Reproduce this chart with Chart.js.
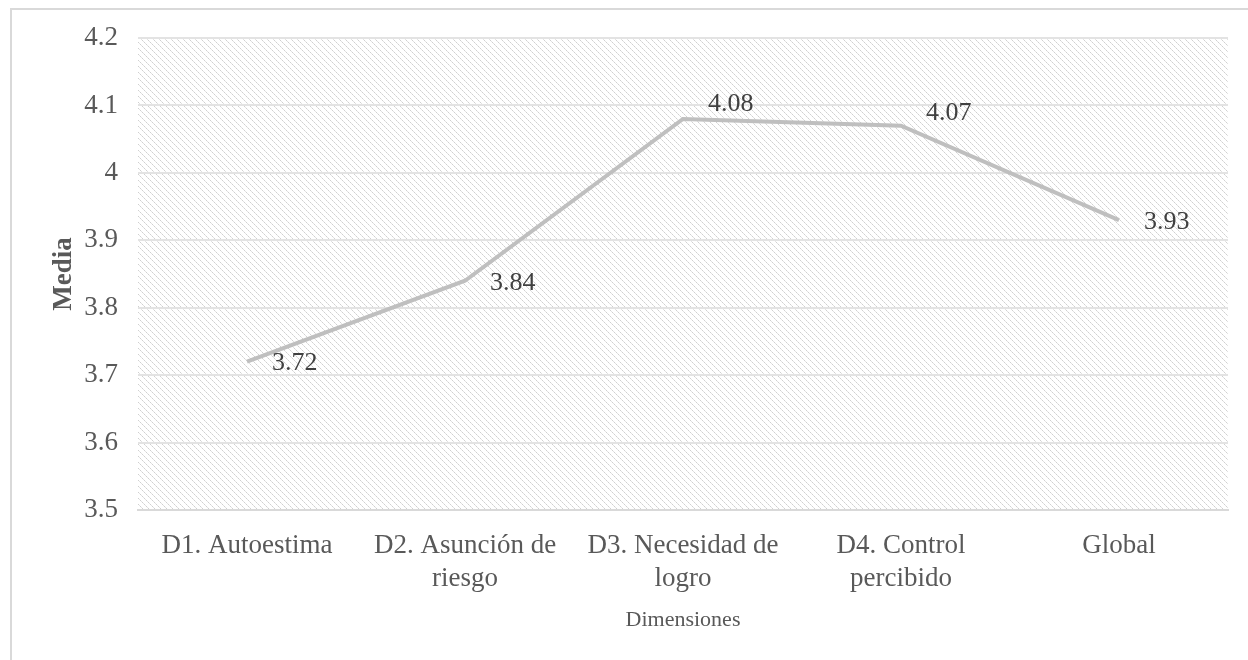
<!DOCTYPE html>
<html>
<head>
<meta charset="utf-8">
<script src="https://cdn.jsdelivr.net/npm/chart.js@4"></script>
<style>
    html, body { margin: 0; padding: 0; background: #fff; overflow: hidden; }
    .frame {
        position: absolute; left: 10px; top: 8px;
        width: 1400px; height: 800px;
        border-left: 2px solid #d9d9d9; border-top: 2px solid #d9d9d9;
    }
    #chart { position: absolute; left: 0; top: 0; }
</style>
</head>
<body>
<div class="frame"></div>
<canvas id="chart" width="1248" height="660"></canvas>
<script>
// Data
const categories = [
    'D1. Autoestima',
    ['D2. Asunción de', 'riesgo'],
    ['D3. Necesidad de', 'logro'],
    ['D4. Control', 'percibido'],
    'Global'
];
const means = [3.72, 3.84, 4.08, 4.07, 3.93];
const yMin = 3.5;
const yMax = 4.2;
const yStep = 0.1;

const serif = '"Liberation Serif", "Times New Roman", serif';

// Hatch pattern for the plot area
function makeHatch() {
    const size = 6;
    const c = document.createElement('canvas');
    c.width = size;
    c.height = size;
    const g = c.getContext('2d');
    g.fillStyle = '#ffffff';
    g.fillRect(0, 0, size, size);
    for (let i = 0; i < size; i++) {
        g.fillStyle = i % 2 === 0 ? '#d0d0d0' : '#e2e2e2';
        g.fillRect(i, i, 1, 1);
    }
    return g.createPattern(c, 'repeat');
}

const hatchPlugin = {
    id: 'hatch',
    beforeDraw(chart) {
        const { ctx, chartArea } = chart;
        ctx.save();
        ctx.fillStyle = makeHatch();
        ctx.fillRect(chartArea.left, chartArea.top,
            chartArea.right - chartArea.left, chartArea.bottom - chartArea.top);
        ctx.restore();
    }
};

// Value labels to the right of each point (the two top ones sit a bit higher)
const labelLift = [0, 0, 17, 14, 0];

const valueLabels = {
    id: 'valueLabels',
    afterDatasetsDraw(chart) {
        const { ctx } = chart;
        const meta = chart.getDatasetMeta(0);
        ctx.save();
        ctx.font = '26px ' + serif;
        ctx.fillStyle = '#404040';
        ctx.textAlign = 'left';
        ctx.textBaseline = 'middle';
        meta.data.forEach((pt, i) => {
            ctx.fillText(means[i].toFixed(2), pt.x + 25, pt.y + 2 - labelLift[i]);
        });
        ctx.restore();
    }
};

const ctx = document.getElementById('chart').getContext('2d');
new Chart(ctx, {
    type: 'line',
    data: {
        labels: categories,
        datasets: [{
            data: means,
            borderColor: '#bfbfbf',
            borderWidth: 4,
            pointRadius: 0,
            tension: 0,
            fill: false
        }]
    },
    options: {
        responsive: false,
        animation: false,
        devicePixelRatio: 1,
        layout: {
            padding: { left: 46, right: 20, top: 38, bottom: 23 }
        },
        plugins: {
            legend: { display: false },
            tooltip: { enabled: false }
        },
        scales: {
            x: {
                offset: true,
                grid: { display: false, drawTicks: false },
                border: { display: true, color: '#d9d9d9', width: 2 },
                ticks: {
                    color: '#595959',
                    font: { family: serif, size: 27, lineHeight: 1.22 },
                    padding: 19,
                    maxRotation: 0,
                    autoSkip: false
                },
                title: {
                    display: true,
                    text: 'Dimensiones',
                    color: '#595959',
                    font: { family: serif, size: 22 },
                    padding: { top: 4, bottom: 4 }
                },
                afterFit(scale) { scale.height = 127; }
            },
            y: {
                min: yMin,
                max: yMax,
                grid: { color: '#e3e3e3', lineWidth: 2, drawTicks: false },
                border: { display: false },
                ticks: {
                    stepSize: yStep,
                    color: '#595959',
                    font: { family: serif, size: 27 },
                    padding: 20,
                    callback: v => Number(v.toFixed(1)).toString()
                },
                title: {
                    display: true,
                    text: 'Media',
                    color: '#595959',
                    font: { family: serif, size: 27, weight: 'bold' },
                    padding: { top: 2, bottom: 2 }
                },
                afterFit(scale) { scale.width = 92; }
            }
        }
    },
    plugins: [hatchPlugin, valueLabels]
});
</script>
</body>
</html>
